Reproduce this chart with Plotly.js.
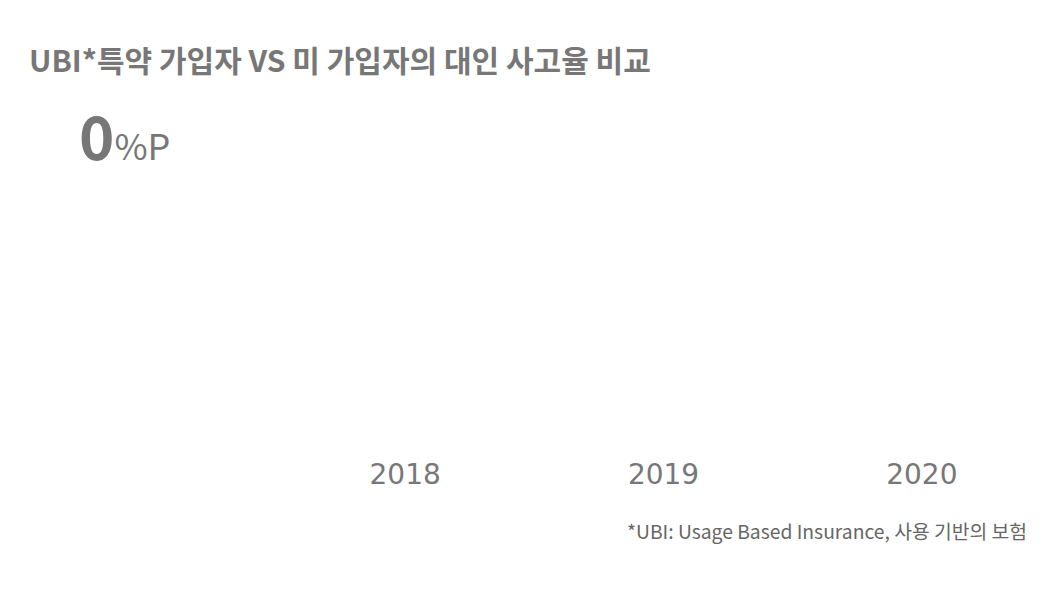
<!DOCTYPE html>
<html>
<head>
<meta charset="utf-8">
<script src="https://cdn.plot.ly/plotly-3.0.1.min.js"></script>
<style>
  html, body { margin: 0; padding: 0; background: #fff; }
  #myDiv { width: 1060px; height: 594px; }
</style>
</head>
<body>
<div id="myDiv"></div>
<script>
// categories and series (chart is shown at its starting state: every bar at 0)
var years = ['2018', '2019', '2020'];
var ubiRate = [0, 0, 0];
var nonUbiRate = [0, 0, 0];
var gapLabel = '0';

var W = 1060, H = 594;
var mL = 276, mR = 9, mT = 180, mB = 144;
var pw = W - mL - mR, ph = H - mT - mB;
// pixel -> paper helpers for the free text
function px(x) { return (x - mL) / pw; }
function py(y) { return (H - mB - y) / ph; }

var font = 'Noto Sans CJK KR, Noto Sans, sans-serif';

var trace1 = {
  x: years,
  y: ubiRate,
  type: 'bar',
  name: 'UBI 특약 가입자',
  marker: {color: '#f58220'},
  hoverinfo: 'skip'
};
var trace2 = {
  x: years,
  y: nonUbiRate,
  type: 'bar',
  name: '미 가입자',
  marker: {color: '#bdbdbd'},
  hoverinfo: 'skip'
};

var layout = {
  width: W,
  height: H,
  margin: {l: mL, r: mR, t: mT, b: mB},
  paper_bgcolor: '#fff',
  plot_bgcolor: '#fff',
  showlegend: false,
  barmode: 'group',
  title: {
    text: '<b>UBI*특약 가입자 VS 미 가입자의 대인 사고율 비교</b>',
    font: {family: font, size: 30, color: '#777777'},
    xref: 'container',
    yref: 'container',
    x: 29 / W,
    xanchor: 'left',
    y: 1 - 61 / H,
    yanchor: 'middle'
  },
  xaxis: {
    type: 'category',
    range: [-0.5, 2.5],
    showgrid: false,
    zeroline: false,
    showline: false,
    ticks: '',
    ticklen: 0,
    ticklabelstandoff: 5,
    tickfont: {family: 'DejaVu Sans, sans-serif', size: 28, color: '#777777'},
    fixedrange: true
  },
  yaxis: {
    range: [0, 10],
    visible: false,
    fixedrange: true
  },
  annotations: [
    {
      xref: 'paper', yref: 'paper',
      x: px(77), y: py(133),
      xanchor: 'left', yanchor: 'middle',
      showarrow: false,
      text: '<b>' + gapLabel + '</b><span style="font-size:36px">%P</span>',
      font: {family: font, size: 60, color: '#777777'}
    },
    {
      xref: 'paper', yref: 'paper',
      x: px(1029), y: py(531),
      xanchor: 'right', yanchor: 'middle',
      showarrow: false,
      text: '*UBI: Usage Based Insurance, 사용 기반의 보험',
      font: {family: font, size: 19.3, color: '#666666'}
    }
  ]
};

Plotly.newPlot('myDiv', [trace1, trace2], layout, {displayModeBar: false, staticPlot: true});
</script>
</body>
</html>
